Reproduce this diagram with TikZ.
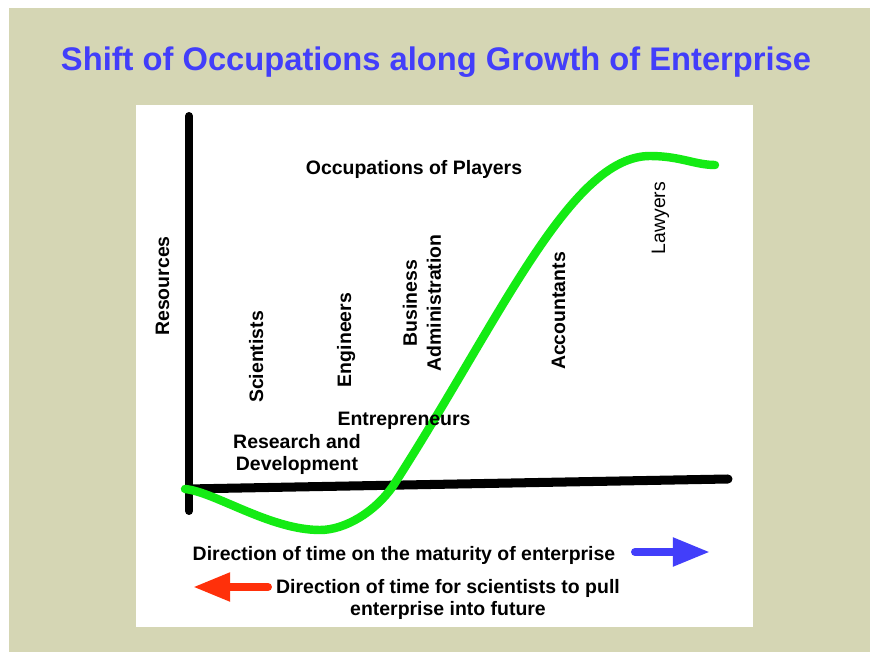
\documentclass[tikz,border=0pt]{standalone}
\usepackage{fontspec}
\setmainfont{Liberation Sans}
\usetikzlibrary{arrows.meta}
\definecolor{paper}{RGB}{213,214,180}
\definecolor{titleblue}{RGB}{66,62,250}
\definecolor{curvegreen}{RGB}{20,235,20}
\definecolor{arrowred}{RGB}{255,48,10}
\tikzset{
  lbl/.style={font=\bfseries\fontsize{16.6}{18.8}\selectfont, inner sep=0pt, anchor=base},
  vlbl/.style={lbl, rotate=90},
  twoline/.style={anchor=center, align=center},
  axis/.style={line width=6.8pt, line cap=round},
  bigarrow/.style={line width=6.8pt, line cap=round, -{Triangle[length=31.6pt,width=23pt]}}
}
\begin{document}
\begin{tikzpicture}[x=0.03cm,y=-0.03cm]
      \useasboundingbox (0,0) rectangle (870,654);
      \fill[paper] (9,8) rectangle (870,652);
      \fill[white] (136,105) rectangle (753,627);
      \draw
        (436,71) node[lbl, font=\bfseries\fontsize{27.9}{30}\selectfont, text=titleblue] (title){Shift of Occupations along Growth of Enterprise}
        (189,116) coordinate (ytop)
        (189,511) coordinate (ybot)
        (187,489) coordinate (xleft)
        (728,479) coordinate (xright)
        (635,552) coordinate (blueS)
        (710,552) coordinate (blueE)
        (268,587) coordinate (redS)
        (193,587) coordinate (redE)
        (185,489) coordinate (g0)
        (320,530) coordinate (g1)
        (393,486) coordinate (g2)
        (650,156) coordinate (g3)
        (715,165) coordinate (g4);
      \begin{scope}[-]
        \draw[axis] (ytop) to (ybot);
        \draw[axis, line width=7.7pt] (xleft) to (xright);
        \draw[bigarrow, titleblue] (blueS) to (blueE);
        \draw[bigarrow, arrowred] (redS) to (redE);
      \end{scope}
      \draw[curvegreen, line width=7.2pt, line cap=round]
        (g0) .. controls (215,492) and (270,530) .. (g1)
             .. controls (345,530) and (375,512) .. (g2)
             .. controls (500,320) and (570,156) .. (g3)
             .. controls (680,156) and (695,165) .. (g4);
      \draw
        (414,175) node[lbl] (occ){Occupations of Players}
        (169,286) node[vlbl] (res){Resources}
        (263,357) node[vlbl] (sci){Scientists}
        (351,340) node[vlbl] (eng){Engineers}
        (422,303) node[vlbl, twoline, font=\bfseries\fontsize{16.6}{20.5}\selectfont] (bus){Business\\Administration}
        (565,311) node[vlbl] (acc){Accountants}
        (665,218) node[vlbl, font=\fontsize{16.6}{18.8}\selectfont] (law){Lawyers}
        (404,425) node[lbl] (ent){Entrepreneurs}
        (297,454) node[lbl, twoline] (rnd){Research and\\Development}
        (404,560) node[lbl] (dira){Direction of time on the maturity of enterprise}
        (448,599) node[lbl, twoline] (dirb){Direction of time for scientists to pull\\enterprise into future};
    \end{tikzpicture}
\end{document}
